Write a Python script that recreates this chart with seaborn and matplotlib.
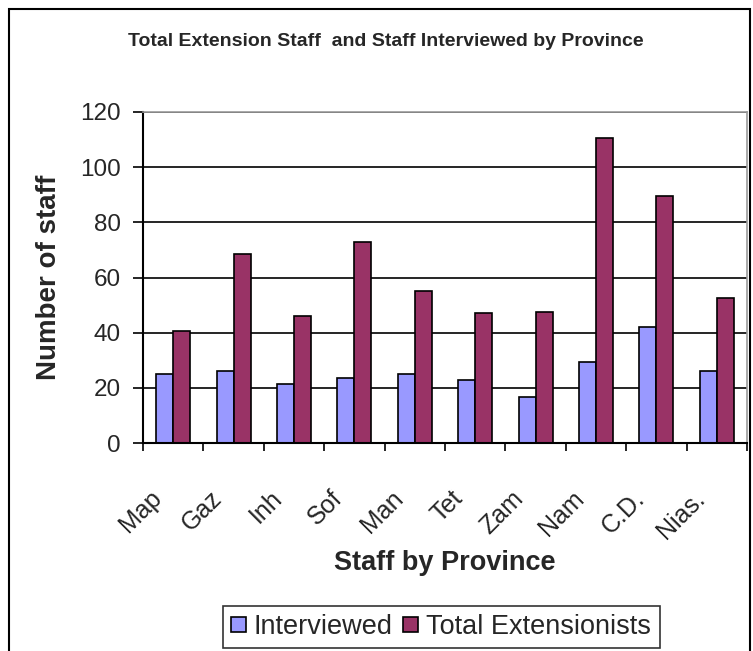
import matplotlib
matplotlib.use("Agg")
import matplotlib.pyplot as plt
import seaborn as sns
import pandas as pd
import numpy as np
from matplotlib.patches import Rectangle

provinces = ["Map", "Gaz", "Inh", "Sof", "Man", "Tet", "Zam", "Nam", "C.D.", "Nias."]
interviewed = [25, 26, 21.5, 23.5, 25, 23, 16.5, 29.5, 42, 26]
total_ext = [40.5, 68.5, 46, 73, 55, 47, 47.5, 110.5, 89.5, 52.5]
series_names = ["Interviewed", "Total Extensionists"]
colors = ["#9999FF", "#993366"]

df = pd.DataFrame({
    "Province": provinces * 2,
    "Series": [series_names[0]] * len(provinces) + [series_names[1]] * len(provinces),
    "Value": interviewed + total_ext,
})

sns.set_theme(style="white")
plt.rcParams["font.family"] = ["Liberation Sans", "DejaVu Sans"]

W, H = 753, 651
fig = plt.figure(figsize=(W / 100, H / 100), dpi=100)
ax_l, ax_r, ax_t, ax_b = 143, 747, 112, 443
ax = fig.add_axes([ax_l / W, 1 - ax_b / H, (ax_r - ax_l) / W, (ax_b - ax_t) / H])

sns.barplot(data=df, x="Province", y="Value", hue="Series", order=provinces,
            hue_order=series_names, palette=colors, width=0.56, gap=0,
            edgecolor="black", linewidth=1.2, saturation=1, ax=ax, legend=True)

ax.set_ylim(0, 120)
ax.set_xlim(-0.5, len(provinces) - 0.5)
ax.set_yticks(np.arange(0, 121, 20))
ax.yaxis.grid(True, color="black", linewidth=1.2)
ax.set_axisbelow(True)
for s in ["top", "right"]:
    ax.spines[s].set_color("#999999")
    ax.spines[s].set_linewidth(1.2)
for s in ["left", "bottom"]:
    ax.spines[s].set_color("black")
    ax.spines[s].set_linewidth(1.5)

ax.tick_params(axis="y", which="major", left=True, length=7, width=1.2, color="black",
               labelsize=17.5, pad=9)
# labels sit left of each category centre, as in the reference
ax.set_xticks(np.arange(len(provinces)) - 0.4)
ax.set_xticklabels(provinces, rotation=45, ha="right", va="top", rotation_mode="anchor",
                   fontsize=18)
ax.tick_params(axis="x", which="major", bottom=False, length=0, pad=31)
ax.set_xticks(np.arange(-0.5, len(provinces), 1), minor=True)
ax.tick_params(axis="x", which="minor", bottom=True, length=6, width=1.2, color="black")

ax.set_xlabel("Staff by Province", fontsize=19.5, fontweight="bold", va="center")
ax.xaxis.set_label_coords(0.5, (ax_b - 563) / (ax_b - ax_t))
ax.set_ylabel("Number of staff", fontsize=20, fontweight="bold", va="center")
ax.yaxis.set_label_coords((49 - ax_l) / (ax_r - ax_l), 0.5)

fig.text(386 / W, 1 - 42 / H, "Total Extension Staff  and Staff Interviewed by Province",
         ha="center", va="center", fontsize=14, fontweight="bold")

handles, labels = ax.get_legend_handles_labels()
ax.legend_.remove()
leg = fig.legend(handles, labels, loc="center", bbox_to_anchor=(441 / W, 1 - 627 / H), ncol=2,
                 fontsize=19.5, frameon=True, fancybox=False, edgecolor="black",
                 handlelength=0.55, handleheight=0.5, handletextpad=0.3, columnspacing=0.4,
                 borderpad=0.3, borderaxespad=0)
leg.get_frame().set_linewidth(1.2)

fig.patches.append(Rectangle((9 / W, -0.01), (750 - 9) / W, 1 - 9 / H + 0.01,
                             transform=fig.transFigure, fill=False, edgecolor="black",
                             linewidth=1.5))

fig.savefig("out.png", dpi=100)
